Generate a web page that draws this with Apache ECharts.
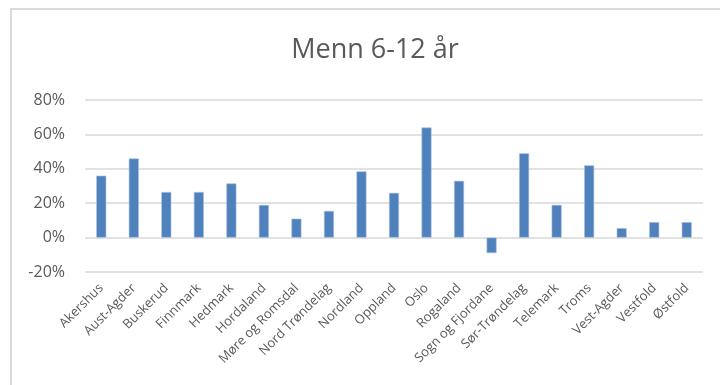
<!DOCTYPE html>
<html>
<head>
<meta charset="utf-8">
<script src="https://cdn.jsdelivr.net/npm/echarts@6/dist/echarts.min.js"></script>
<style>
  html, body { margin: 0; padding: 0; background: #fff; }
  #wrap { position: relative; width: 720px; height: 385px; }
  #frame { position: absolute; left: 10px; top: 8px; right: -5px; bottom: -5px;
           border-top: 2px solid #d9d9d9; border-left: 2px solid #d9d9d9; }
  #main { position: absolute; left: 0; top: 0; width: 720px; height: 385px; }
</style>
</head>
<body>
<div id="wrap">
  <div id="frame"></div>
  <div id="main"></div>
</div>
<script>
// fylker og andel (prosent)
var fylker = ['Akershus', 'Aust-Agder', 'Buskerud', 'Finnmark', 'Hedmark', 'Hordaland',
  'Møre og Romsdal', 'Nord Trøndelag', 'Nordland', 'Oppland', 'Oslo', 'Rogaland',
  'Sogn og Fjordane', 'Sør-Trøndelag', 'Telemark', 'Troms', 'Vest-Agder', 'Vestfold', 'Østfold'];
var andel = [36, 46, 26.5, 26.5, 31.5, 19, 11, 15.5, 38.5, 26, 64, 33, -9, 49, 19, 42, 5.5, 9, 9];
var yTicks = [-20, 0, 20, 40, 60, 80];

var myChart = echarts.init(document.getElementById('main'));
var option = {
  backgroundColor: 'transparent',
  title: {
    text: 'Menn 6-12 år',
    left: 370,
    textAlign: 'center',
    top: 32,
    textStyle: { fontFamily: 'Open Sans', fontSize: 27, fontWeight: 'normal', color: '#595959' }
  },
  grid: { left: 85, right: 17, top: 100, bottom: 113 },
  xAxis: {
    type: 'category',
    data: fylker,
    axisLine: { show: false, onZero: false },
    axisTick: { show: false },
    axisLabel: {
      rotate: 45,
      interval: 0,
      margin: 14,
      fontFamily: 'Open Sans',
      fontSize: 13,
      color: '#595959'
    }
  },
  yAxis: {
    type: 'value',
    min: yTicks[0],
    max: yTicks[yTicks.length - 1],
    interval: 20,
    axisLine: { show: false },
    axisTick: { show: false },
    splitLine: { lineStyle: { color: '#d9d9d9', width: 1.5 } },
    axisLabel: {
      formatter: '{value}%',
      margin: 20,
      fontFamily: 'Open Sans',
      fontSize: 16,
      color: '#595959'
    }
  },
  series: [{
    type: 'bar',
    data: andel,
    barWidth: 10,
    itemStyle: { color: '#4f81bd', borderColor: '#a7bfdd', borderWidth: 0.6 }
  }]
};
myChart.setOption(option);
</script>
</body>
</html>
